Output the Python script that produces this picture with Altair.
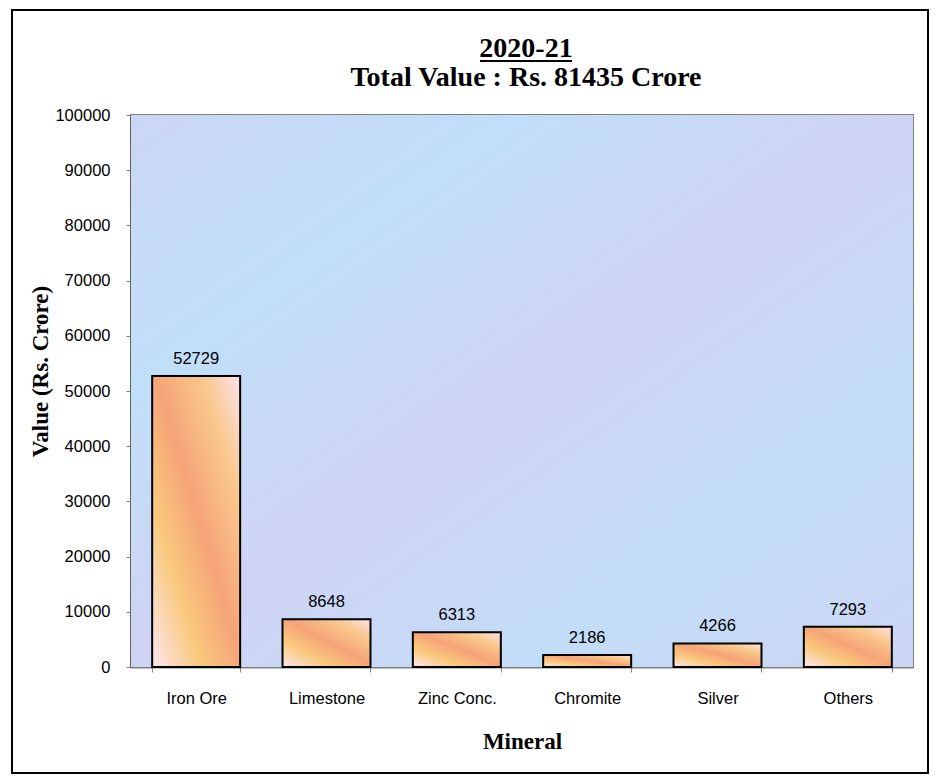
import altair as alt
import pandas as pd

# ---- data ----
minerals = ["Iron Ore", "Limestone", "Zinc Conc.", "Chromite", "Silver", "Others"]
values = [52729, 8648, 6313, 2186, 4266, 7293]
y_ticks = [0, 10000, 20000, 30000, 40000, 50000, 60000, 70000, 80000, 90000, 100000]
title_lines = ["2020-21", "Total Value : Rs. 81435 Crore"]
x_title = "Mineral"
y_title = "Value (Rs. Crore)"

df = pd.DataFrame({"Mineral": minerals, "Value": values})

W, H = 782, 552
TX = 395  # title centre relative to plot

bar_fill = alt.LinearGradient(
    gradient="linear", x1=0, y1=1, x2=1, y2=0,
    stops=[
        alt.GradientStop(color="#fde6f0", offset=0.0),
        alt.GradientStop(color="#f9c97c", offset=0.28),
        alt.GradientStop(color="#f6a478", offset=0.52),
        alt.GradientStop(color="#f9c88c", offset=0.78),
        alt.GradientStop(color="#fde2ea", offset=1.0),
    ],
)

bg_fill = alt.LinearGradient(
    gradient="linear", x1=0, y1=0, x2=1, y2=1,
    stops=[
        alt.GradientStop(color="#cbd6f5", offset=0.0),
        alt.GradientStop(color="#c0dff8", offset=0.25),
        alt.GradientStop(color="#d0d3f4", offset=0.5),
        alt.GradientStop(color="#c2ddf7", offset=0.75),
        alt.GradientStop(color="#ccd5f4", offset=1.0),
    ],
)

one = alt.Data(values=[{"a": 1}])

background = alt.Chart(one).mark_rect(fill=bg_fill).encode(
    x=alt.value(0), x2=alt.value(W), y=alt.value(0), y2=alt.value(H)
)

x_enc = alt.X(
    "Mineral:N",
    sort=minerals,
    scale=alt.Scale(paddingInner=0.325, paddingOuter=0.1625),
    axis=alt.Axis(
        title=x_title, labelAngle=0, tickBand="extent", tickSize=5,
        tickColor="#808080", domainColor="#808080", domainWidth=2,
        labelFont="Liberation Sans", labelFontSize=16.5, labelColor="black",
        labelPadding=18, grid=False,
        titleFont="Liberation Serif", titleFontSize=23, titleFontWeight="bold",
        titleColor="black", titleX=W / 2, titleY=74, titleAlign="center",
        titleBaseline="middle",
    ),
)
y_enc = alt.Y(
    "Value:Q",
    scale=alt.Scale(domain=[0, 100000], nice=False),
    axis=alt.Axis(
        title=y_title, values=y_ticks, format="d", tickSize=5,
        tickColor="#808080", domainColor="#404040", domainWidth=2,
        labelFont="Liberation Sans", labelFontSize=16.5, labelColor="black",
        labelPadding=16, grid=False,
        titleFont="Liberation Serif", titleFontSize=23, titleFontWeight="bold",
        titleColor="black", titleAngle=270, titleX=-91, titleY=256,
        titleAlign="center", titleBaseline="middle",
    ),
)

bars = alt.Chart(df).mark_bar(fill=bar_fill, stroke="black", strokeWidth=2).encode(
    x=x_enc, y=y_enc
)

labels = alt.Chart(df).mark_text(
    baseline="alphabetic", dy=-12, font="Liberation Sans", fontSize=16.5, color="black"
).encode(x=alt.X("Mineral:N", sort=minerals), y="Value:Q", text="Value:Q")

t1 = alt.Chart(alt.Data(values=[{"t": title_lines[0]}])).mark_text(
    font="Liberation Serif", fontWeight="bold", fontSize=28, baseline="alphabetic",
    align="center", color="black"
).encode(text="t:N", x=alt.value(TX), y=alt.value(-58))

t2 = alt.Chart(alt.Data(values=[{"t": title_lines[1]}])).mark_text(
    font="Liberation Serif", fontWeight="bold", fontSize=28, baseline="alphabetic",
    align="center", color="black"
).encode(text="t:N", x=alt.value(TX), y=alt.value(-29))

underline = alt.Chart(one).mark_rule(color="black", strokeWidth=2).encode(
    x=alt.value(TX - 46), x2=alt.value(TX + 46), y=alt.value(-54)
)

frame = alt.Chart(one).mark_rect(fill=None, stroke="black", strokeWidth=2).encode(
    x=alt.value(-119), x2=alt.value(797), y=alt.value(-105), y2=alt.value(658)
)

chart = alt.layer(background, bars, labels, t1, t2, underline, frame).properties(
    width=W, height=H,
    padding={"left": 123, "top": 107, "right": 17, "bottom": 107},
    autosize=alt.AutoSizeParams(type="none"),
    background="white",
).configure_view(stroke="#808080", strokeWidth=2)

chart.save("out.html", embed_options={"renderer": "svg", "actions": False})
